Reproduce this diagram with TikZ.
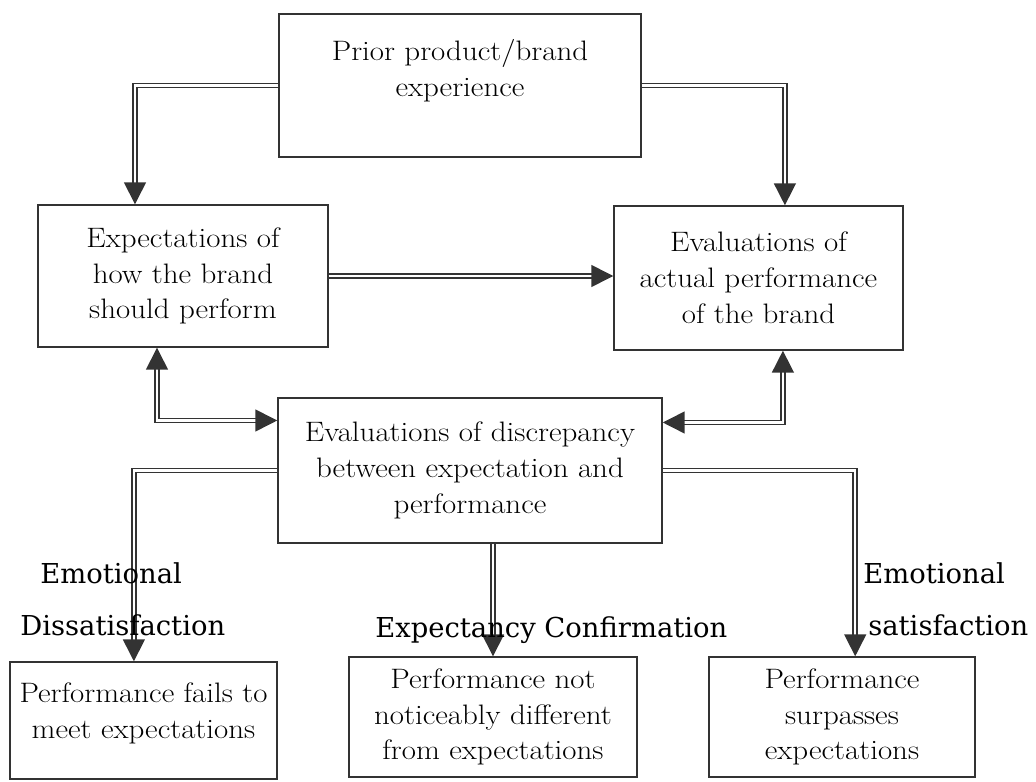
\documentclass[tikz,border=0pt]{standalone}
\usepackage{fontspec}
\newfontfamily\boxfont{Latin Modern Roman}[FakeStretch=1.1]
\newfontfamily\labelfont{DejaVu Serif}
\usetikzlibrary{arrows.meta,positioning}
\definecolor{inkgray}{HTML}{333333}
\tikzset{
	box/.style={draw=inkgray, line width=1pt, align=center, inner sep=2pt, font=\boxfont\fontsize{20}{25.5}\selectfont},
	dbl/.style={draw=inkgray, double=white, line width=1.1pt, double distance=1.8pt},
	tip/.style={-{Triangle[length=15.5pt, width=15.5pt, fill=inkgray]}},
	lbl/.style={anchor=base west, inner sep=0pt, font=\labelfont\fontsize{19.5}{22}\selectfont}
}
\begin{document}
\begin{tikzpicture}[x=0.025cm, y=-0.025cm]
				\useasboundingbox (0,0) rectangle (1036,781);
				% boxes
				\node[box, minimum width=9.05cm, minimum height=3.575cm] (prior) at (460,85.5) {Prior product/brand\\experience\\\mbox{}};
				\node[box, minimum width=7.25cm, minimum height=3.55cm] (expect) at (183,276) {Expectations of\\how the brand\\should perform};
				\node[box, minimum width=7.225cm, minimum height=3.6cm] (actual) at (758.5,278) {Evaluations of\\actual performance\\of the brand};
				\node[box, minimum width=9.6cm, minimum height=3.625cm] (discrep) at (470,470.5) {Evaluations of discrepancy\\between expectation and\\performance};
				\node[box, minimum width=6.675cm, minimum height=2.925cm] (fails) at (143.5,720.5) {Performance fails to\\meet expectations\\[-11pt]\mbox{}};
				\node[box, minimum width=7.2cm, minimum height=3cm] (notdiff) at (493,717) {Performance not\\noticeably different\\from expectations};
				\node[box, minimum width=6.65cm, minimum height=3cm] (surpass) at (842,717) {Performance\\surpasses\\expectations};
				% connectors
				\draw[dbl, tip] (prior.west) -| ([xshift=-1.2cm]expect.north);
				\draw[dbl, tip] (prior.east) -| ([xshift=0.66cm]actual.north);
				\draw[dbl, tip] (expect.east) -- (expect.east -| actual.west);
				\draw[dbl, {Triangle[length=15.5pt, width=15.5pt, fill=inkgray]}-{Triangle[length=15.5pt, width=15.5pt, fill=inkgray]}] ([xshift=-0.65cm]expect.south) |- ([yshift=1.25cm]discrep.west);
				\draw[dbl, {Triangle[length=15.5pt, width=15.5pt, fill=inkgray]}-{Triangle[length=15.5pt, width=15.5pt, fill=inkgray]}] ([xshift=0.61cm]actual.south) |- ([yshift=1.2cm]discrep.east);
				\draw[dbl, tip] (discrep.west) -| ([xshift=-0.24cm]fails.north);
				\draw[dbl, tip] (notdiff.north |- discrep.south) -- (notdiff.north);
				\draw[dbl, tip] (discrep.east) -| ([xshift=0.33cm]surpass.north);
				% labels
				\node[lbl] (emoneg) at (40,583) {Emotional};
				\node[lbl] (dissat) at (20,635) {Dissatisfaction};
				\node[lbl] (confirm) at (375,637) {Expectancy Confirmation};
				\node[lbl] (emopos) at (863,583) {Emotional};
				\node[lbl] (sat) at (868,635) {satisfaction};
			\end{tikzpicture}
\end{document}
